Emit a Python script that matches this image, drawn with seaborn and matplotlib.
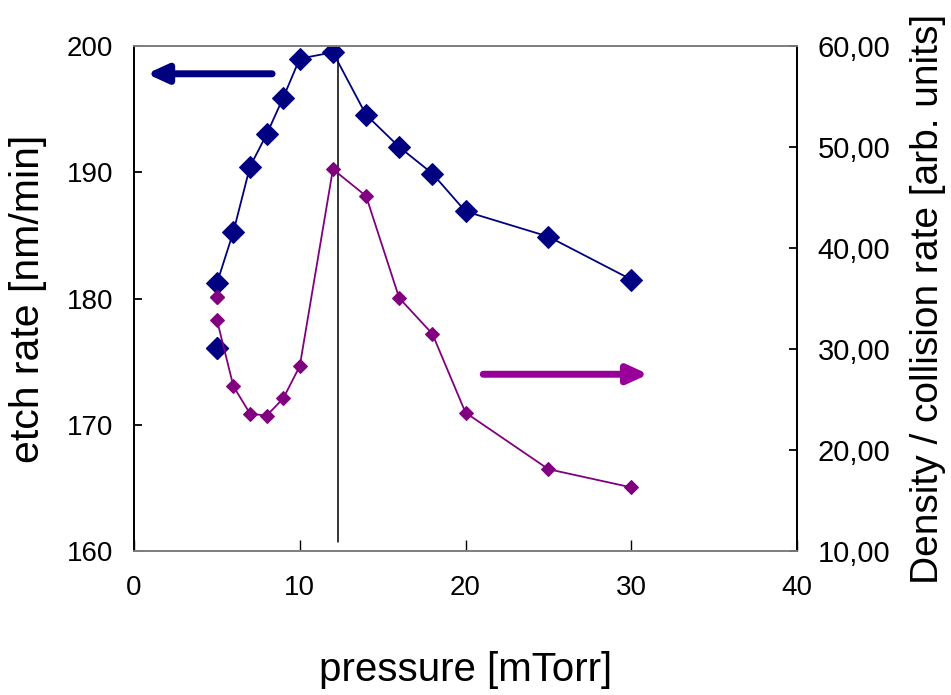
import numpy as np
import pandas as pd
import seaborn as sns
from matplotlib import pyplot as plt

# pressure values [mTorr]
pressure = [5, 6, 7, 8, 9, 10, 12, 14, 16, 18, 20, 25, 30]
# etch rate [nm/min], left axis
etch_rate = [181.2, 185.3, 190.45, 193.0, 195.9, 199.0, 199.5, 194.55, 192.0, 189.9, 186.9, 184.9, 181.5]
# density / collision rate [arb. units], right axis
density = [32.9, 26.3, 23.6, 23.4, 25.1, 28.3, 47.8, 45.15, 35.05, 31.5, 23.7, 18.1, 16.3]
# lone points at 5 mTorr
extra_x = [5]
extra_etch = [176.1]
extra_density = [35.1]
marker_line_x = 12.3

left_ticks = [160, 170, 180, 190, 200]
right_ticks = [10, 20, 30, 40, 50, 60]
x_ticks = [0, 10, 20, 30, 40]

sns.set_style('white')
plt.rcParams['font.family'] = ['Liberation Sans', 'DejaVu Sans']
plt.rcParams['text.color'] = 'black'
plt.rcParams['axes.labelcolor'] = 'black'
plt.rcParams['xtick.color'] = 'black'
plt.rcParams['ytick.color'] = 'black'

fig = plt.figure(figsize=(9.51, 6.95), dpi=100)
ax = fig.add_axes([0.1409, 0.2072, 0.6972, 0.7266])
ax2 = ax.twinx()

df = pd.DataFrame({'p': pressure, 'etch': etch_rate, 'dens': density})
blue = '#000080'
purple = '#800080'

sns.lineplot(data=df, x='p', y='etch', ax=ax, color=blue, marker='D', markersize=11,
             markeredgecolor=blue, linewidth=1.3, zorder=3)
ax.plot(extra_x, extra_etch, 'D', color=blue, markersize=11, zorder=3)
sns.lineplot(data=df, x='p', y='dens', ax=ax2, color=purple, marker='D', markersize=7.5,
             markeredgecolor=purple, linewidth=1.3, zorder=3)
ax2.plot(extra_x, extra_density, 'D', color=purple, markersize=7.5, zorder=3)

ax.axvline(marker_line_x, ymin=0.017, ymax=1, color='black', linewidth=1.1, zorder=2)

ax.set_xlim(0, 40)
ax.set_ylim(160, 200)
ax2.set_ylim(10, 60)
ax.set_xticks(x_ticks)
ax.set_yticks(left_ticks)
ax2.set_yticks(right_ticks)
ax2.set_yticklabels([f"{v:.2f}".replace('.', ',') for v in right_ticks])

ax.tick_params(axis='x', direction='in', length=8, width=1, pad=17, labelsize=20,
               bottom=True, top=False)
ax.tick_params(axis='y', direction='in', length=6, width=1.3, pad=15, labelsize=20,
               left=True, right=False)
ax2.tick_params(axis='y', direction='in', length=6, width=1.3, pad=15, labelsize=21,
                right=True, left=False)
ax2.tick_params(axis='x', bottom=False, top=False)

ax.set_xlabel('pressure [mTorr]', fontsize=29, labelpad=36)
ax.set_ylabel('etch rate [nm/min]', fontsize=29.5, labelpad=14)
ax2.set_ylabel('Density / collision rate [arb. units]', fontsize=28, labelpad=14)

for a in (ax, ax2):
    a.spines['top'].set_color('#808080')
    a.spines['bottom'].set_color('#808080')
    a.spines['left'].set_color('black')
    a.spines['right'].set_color('black')
    for s in a.spines.values():
        s.set_linewidth(1.3)

# direction arrows
ax.annotate('', xy=(0.6, 197.8), xytext=(8.5, 197.8),
            arrowprops=dict(arrowstyle='-|>,head_length=1.2,head_width=0.55', color=blue, lw=5))
ax2.annotate('', xy=(31.2, 27.5), xytext=(20.9, 27.5),
             arrowprops=dict(arrowstyle='-|>,head_length=1.2,head_width=0.55', color='#990099', lw=5))

fig.savefig('out.png', dpi=100)
